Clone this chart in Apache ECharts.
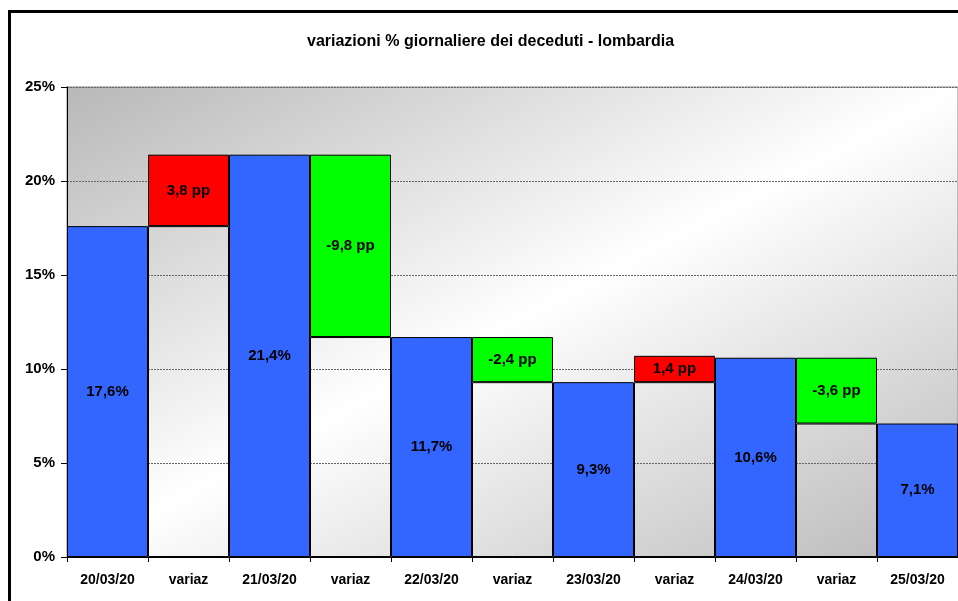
<!DOCTYPE html>
<html><head><meta charset="utf-8">
<script src="https://cdn.jsdelivr.net/npm/echarts@6/dist/echarts.min.js"></script>
<style>html,body{margin:0;padding:0;background:#fff}#c{width:958px;height:601px}</style>
</head><body><div id="c"></div>
<script>
const categories = ['20/03/20','variaz','21/03/20','variaz','22/03/20','variaz','23/03/20','variaz','24/03/20','variaz','25/03/20'];
const dailyValues = [17.6, null, 21.4, null, 11.7, null, 9.3, null, 10.6, null, 7.1];
const baseValues = [null, 17.6, null, 11.7, null, 9.3, null, 9.3, null, 7.1, null];
const deltaValues = [null, 3.8, null, 9.7, null, 2.4, null, 1.4, null, 3.5, null];
const deltaLabels = [null, '3,8 pp', null, '-9,8 pp', null, '-2,4 pp', null, '1,4 pp', null, '-3,6 pp', null];
const deltaUp = [null, true, null, false, null, false, null, true, null, false, null];
const yTicks = [0, 5, 10, 15, 20, 25];

const font = 'Liberation Sans, Arial, sans-serif';
const chart = echarts.init(document.getElementById('c'));
const labelStyle = {show: true, position: 'inside', color: '#000', fontWeight: 'bold', fontSize: 15, fontFamily: font};
// diagonal gradient whose mid isoline runs from bottom-left to top-right corner of the plot
const gw = 891, gh = 470, L2 = gw * gw + gh * gh;
const ax = gh * gh / L2, ay = gw * gw / L2;
chart.setOption({
  animation: false,
  graphic: [{type: 'rect', shape: {x: 9.5, y: 11.5, width: 1000, height: 700},
    style: {fill: 'none', stroke: '#000', lineWidth: 3}, z: 100}],
  title: {text: 'variazioni % giornaliere dei deceduti - lombardia', left: 302, top: 29,
    textStyle: {fontSize: 16, fontWeight: 'bold', color: '#000', fontFamily: font}},
  grid: {left: 67, right: 0, top: 87, bottom: 44, show: true, borderColor: '#888', borderWidth: 1,
    backgroundColor: new echarts.graphic.LinearGradient(0.5 - ax, 0.5 - ay, 0.5 + ax, 0.5 + ay, [
      {offset: 0, color: '#b8b8b8'}, {offset: 0.5, color: '#ffffff'}, {offset: 1, color: '#b8b8b8'}])},
  xAxis: {type: 'category', data: categories, boundaryGap: true,
    axisLine: {lineStyle: {color: '#000', width: 1}},
    axisTick: {show: true, alignWithLabel: false, length: 5, lineStyle: {color: '#000'}},
    axisLabel: {color: '#000', fontWeight: 'bold', fontSize: 14, fontFamily: font, margin: 16, interval: 0}},
  yAxis: {type: 'value', min: yTicks[0], max: yTicks[yTicks.length - 1], interval: 5,
    axisLine: {show: true, lineStyle: {color: '#000', width: 1}},
    axisTick: {show: true, length: 6, lineStyle: {color: '#000'}},
    axisLabel: {formatter: '{value}%', color: '#000', fontWeight: 'bold', fontSize: 15, fontFamily: font, margin: 12},
    splitLine: {show: true, lineStyle: {color: '#666', type: [2, 1], width: 1}}},
  series: [
    {type: 'bar', stack: 'a', barWidth: '100%', barCategoryGap: 0,
      data: dailyValues.map(v => v === null ? '-' : v),
      itemStyle: {color: '#3366FF', borderColor: '#000', borderWidth: 1},
      label: Object.assign({}, labelStyle, {formatter: p => p.value.toFixed(1).replace('.', ',') + '%'})},
    {type: 'bar', stack: 'a', barWidth: '100%',
      data: baseValues.map(v => v === null ? '-' : v),
      itemStyle: {color: 'rgba(0,0,0,0)', borderColor: '#000', borderWidth: 1}},
    {type: 'bar', stack: 'a', barWidth: '100%',
      data: deltaValues.map((v, i) => v === null ? '-' : {value: v,
        itemStyle: {color: deltaUp[i] ? '#FF0000' : '#00FF00', borderColor: '#000', borderWidth: 1}}),
      label: Object.assign({}, labelStyle, {formatter: p => deltaLabels[p.dataIndex]})}
  ]
});
</script></body></html>
